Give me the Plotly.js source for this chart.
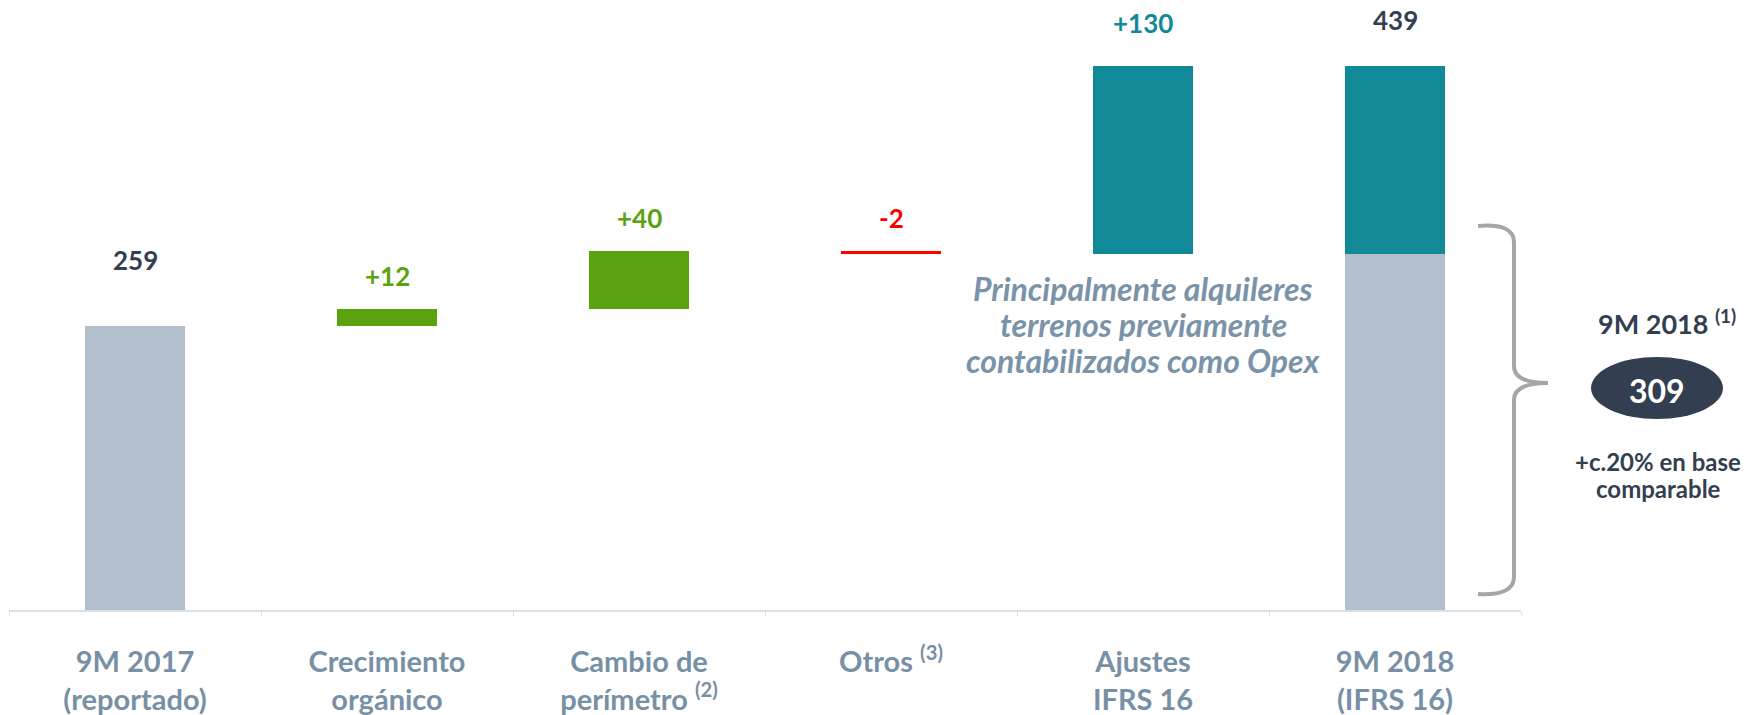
<!DOCTYPE html>
<html><head><meta charset="utf-8">
<script src="https://cdn.plot.ly/plotly-3.0.1.min.js"></script>
<style>html,body{margin:0;padding:0;background:#fff}#chart{width:1750px;height:715px}</style>
</head><body><div id="chart"></div>
<script>
// ---- data ----
const categories = ['9M 2017 (reportado)','Crecimiento orgánico','Cambio de perímetro','Otros','Ajustes IFRS 16','9M 2018 (IFRS 16)'];
const tickLabels = ['9M 2017<br>(reportado)','Crecimiento<br>orgánico','Cambio de<br>perímetro <sup>(2)</sup>','Otros <sup>(3)</sup>','Ajustes<br>IFRS 16','9M 2018<br>(IFRS 16)'];
const startValue = 259;
const stepCategories = ['Crecimiento orgánico','Cambio de perímetro','Otros'];
const stepValues = [12, 40, -2];
const ifrsCategory = 'Ajustes IFRS 16';
const ifrsValue = 130;
const endCategory = '9M 2018 (IFRS 16)';
const comparableValue = 309;
const totalValue = 439;
const comparableTitle = '9M 2018 <sup>(1)</sup>';
const comparableNote = ['+c.20% en base','comparable'];
const ifrsNote = ['Principalmente alquileres','terrenos previamente','contabilizados como Opex'];
// truncated value axis of the original slide
const yRange = [62.4, 477.8];

// ---- colours / geometry ----
const C = {grey:'#b3bfcd', green:'#5aa30f', red:'#ff0000', teal:'#128997', dark:'#333f50', cat:'#7890a5', axis:'#d9e0e8', brace:'#a6a6a6'};
const FONT = 'Lato, "Open Sans", sans-serif';
const W = 1750, H = 715, M = {l:9, r:229, t:10, b:105};
const plotW = W - M.l - M.r, plotH = H - M.t - M.b;
const px2x = p => (p - M.l) / plotW;
const px2y = p => (H - M.b - p) / plotH;

// running bases for the step bars
const stepBases = [];
let run = startValue;
stepValues.forEach(v => { stepBases.push(run); run += v; });

const bw = 0.4;
const traces = [
  {type:'bar', x:[categories[0], endCategory], y:[startValue, comparableValue], base:[0,0],
   marker:{color:C.grey}, width:bw, hoverinfo:'skip'},
  {type:'bar', x:stepCategories.filter((c,i)=>stepValues[i]>0), y:stepValues.filter(v=>v>0),
   base:stepBases.filter((b,i)=>stepValues[i]>0), marker:{color:C.green}, width:bw, hoverinfo:'skip'},
  {type:'bar', x:stepCategories.filter((c,i)=>stepValues[i]<0), y:stepValues.filter(v=>v<0),
   base:stepBases.filter((b,i)=>stepValues[i]<0), marker:{color:C.red}, width:bw, hoverinfo:'skip'},
  {type:'bar', x:[ifrsCategory, endCategory], y:[ifrsValue, totalValue - comparableValue],
   base:[comparableValue, comparableValue], marker:{color:C.teal}, width:bw, hoverinfo:'skip'}
];

// value labels
const ann = [];
const valLabel = (x, y, text, color, shift) => ann.push({x, y, xref:'x', yref:'y', text:'<b>'+text+'</b>',
  showarrow:false, xanchor:'center', yanchor:'bottom', yshift:shift, font:{family:FONT, size:26, color}});
valLabel(categories[0], startValue, String(startValue), C.dark, 48);
stepValues.forEach((v,i) => valLabel(stepCategories[i], Math.max(stepBases[i], stepBases[i]+v),
  (v>0?'+':'')+v, v>0?C.green:C.red, 15));
valLabel(ifrsCategory, comparableValue + ifrsValue, '+'+ifrsValue, C.teal, 25);
valLabel(endCategory, totalValue, String(totalValue), C.dark, 28);

// explanatory italic note (one annotation per line)
ifrsNote.forEach((t,i) => ann.push({x:ifrsCategory, xref:'x', y:px2y(288 + 36*i), yref:'paper', text:t,
  showarrow:false, xanchor:'center', yanchor:'middle', height:34,
  font:{family:FONT, size:32, color:'#7a93a8', style:'italic', weight:'bold'}}));

// right-hand side panel
const pAnn = (px, py, text, size, color) => ann.push({x:px2x(px), y:px2y(py), xref:'paper', yref:'paper',
  text:'<b>'+text+'</b>', showarrow:false, xanchor:'center', yanchor:'middle', font:{family:FONT, size, color}});
pAnn(1667, 322, comparableTitle, 27, C.dark);
pAnn(1657, 390, String(comparableValue), 32, '#ffffff');
comparableNote.forEach((t,i) => pAnn(1658, 461 + 27*i, t, 24, C.dark));

// brace
const P = (x,y) => px2x(x).toFixed(5)+','+px2y(y).toFixed(5);
const bracePath = 'M'+P(1478,226)+' Q'+P(1514,223)+' '+P(1514,242)+' L'+P(1514,366)+' Q'+P(1514,383)+' '+P(1548,383)+
  ' Q'+P(1514,383)+' '+P(1514,400)+' L'+P(1514,577)+' Q'+P(1514,596)+' '+P(1478,594);
const shapes = [
  {type:'path', xref:'paper', yref:'paper', path:bracePath, line:{color:C.brace, width:4}},
  {type:'circle', xref:'paper', yref:'paper', x0:px2x(1591), x1:px2x(1723), y0:px2y(419), y1:px2y(357),
   fillcolor:C.dark, line:{width:0}, layer:'below'}
];

const layout = {
  width:W, height:H, margin:M, paper_bgcolor:'#fff', plot_bgcolor:'#fff',
  barmode:'overlay', showlegend:false, bargap:0,
  xaxis:{type:'category', categoryorder:'array', categoryarray:categories, range:[-0.5, 5.5],
    tickvals:categories, ticktext:tickLabels, showline:true, linecolor:C.axis, linewidth:2,
    ticks:'outside', ticklen:4, tickcolor:C.axis, tickwidth:1, tickson:'boundaries',
    showgrid:false, zeroline:false, ticklabelstandoff:25,
    tickfont:{family:FONT, size:29, color:C.cat, weight:'bold'}, fixedrange:true},
  yaxis:{visible:false, range:yRange, showgrid:false, zeroline:false, fixedrange:true},
  annotations:ann, shapes:shapes
};
Plotly.newPlot('chart', traces, layout, {displayModeBar:false, staticPlot:true});
</script></body></html>
